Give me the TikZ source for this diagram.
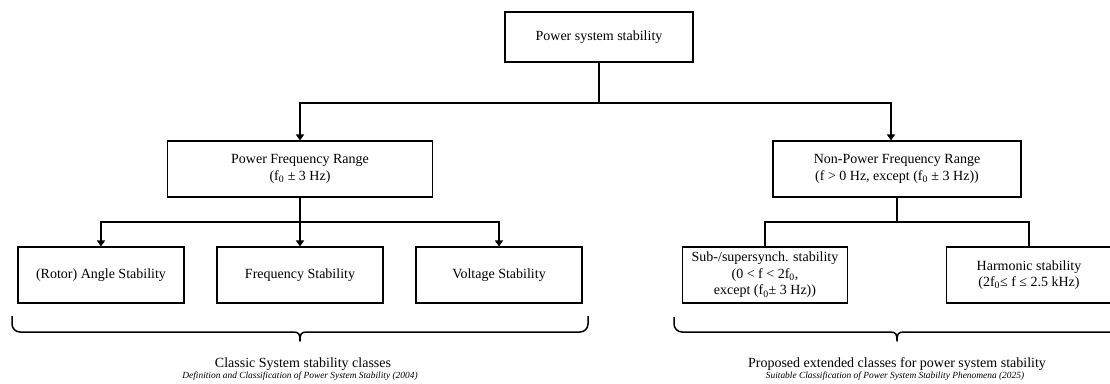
\documentclass[tikz,border=0pt]{standalone}
\usepackage{fontspec}
\setmainfont{Liberation Serif}
\usetikzlibrary{arrows.meta}
\begin{document}
\begin{tikzpicture}[x=1pt,y=-1pt,
  box/.style={draw, line width=1.1pt, minimum height=56pt, align=center,
    inner sep=2pt, font=\fontsize{14}{16.5}\selectfont},
  conn/.style={line width=1.8pt},
  arr/.style={conn, -{Triangle[length=6pt,width=8pt]}},
  bracepath/.style={line width=1.5pt, line join=round},
  caption/.style={font=\fontsize{14}{16}\selectfont, anchor=base},
  source/.style={font=\fontsize{9.4}{10}\selectfont\itshape, anchor=base}]

\useasboundingbox (0,0) rectangle (1110,383);
\fill[white] (0,0) rectangle (1110,383);
\clip (0,0) rectangle (1110,383);

% --- boxes ---
\node[box, minimum width=188pt, minimum height=50pt] (top) at (599,37) {Power system stability};

\node[box, minimum width=265pt] (pfr) at (300,169)
  {Power Frequency Range\\(f\textsubscript{0} ± 3 Hz)};
\node[box, minimum width=248pt] (npfr) at (897,169)
  {Non-Power Frequency Range\\(f > 0 Hz, except (f\textsubscript{0} ± 3 Hz))};

\node[box, minimum width=166pt] (angle) at (101,275) {(Rotor) Angle Stability};
\node[box, minimum width=166pt] (freq)  at (300,275) {Frequency Stability};
\node[box, minimum width=166pt] (volt)  at (499,275) {Voltage Stability};

\node[box, minimum width=165pt] (sub)  at (765,275)
  {Sub-/supersynch. stability\\(0 < f < 2f\textsubscript{0},\\except (f\textsubscript{0}± 3 Hz))};
\node[box, minimum width=165pt] (harm) at (1029,275)
  {Harmonic stability\\(2f\textsubscript{0}≤ f ≤ 2.5 kHz)};

% --- connectors ---
\coordinate (j1) at (top.south |- 0,103);
\draw[conn] (top.south) -- (j1);
\draw[arr] (j1) -| (pfr.north);
\draw[arr] (j1) -| ([xshift=-6pt]npfr.north);

\coordinate (j2) at (pfr.south |- 0,222);
\draw[conn] (pfr.south) -- (j2);
\draw[arr] (j2) -| (angle.north);
\draw[arr] (j2) -- (freq.north);
\draw[arr] (j2) -| (volt.north);

\coordinate (j3) at (npfr.south |- 0,222);
\draw[conn] (npfr.south) -- (j3);
\draw[conn] (j3) -| (sub.north);
\draw[conn] (j3) -| (harm.north);

% --- braces ---
\coordinate (tipA) at (300,341);
\draw[bracepath, rounded corners=8pt] (12,316) -- (12,332) -- (290,332);
\draw[bracepath] (290,332) -- (293,332) .. controls (299,332) and (300,334) .. (tipA)
  .. controls (300,334) and (301,332) .. (307,332) -- (310,332);
\draw[bracepath, rounded corners=8pt] (310,332) -- (588,332) -- (588,316);

\coordinate (tipB) at (897,341);
\draw[bracepath, rounded corners=8pt] (674,317) -- (674,332) -- (887,332);
\draw[bracepath] (887,332) -- (890,332) .. controls (896,332) and (897,334) .. (tipB)
  .. controls (897,334) and (898,332) .. (904,332) -- (907,332);
\draw[bracepath, rounded corners=8pt] (907,332) -- (1120,332) -- (1120,317);

% --- captions ---
\node[caption] (capA) at (303,367) {Classic System stability classes};
\node[source]  (srcA) at (300,378) {Definition and Classification of Power System Stability (2004)};
\node[caption] (capB) at (897,367) {Proposed extended classes for power system stability};
\node[source]  (srcB) at (895,378) {Suitable Classification of Power System Stability Phenomena (2025)};
\end{tikzpicture}
\end{document}
